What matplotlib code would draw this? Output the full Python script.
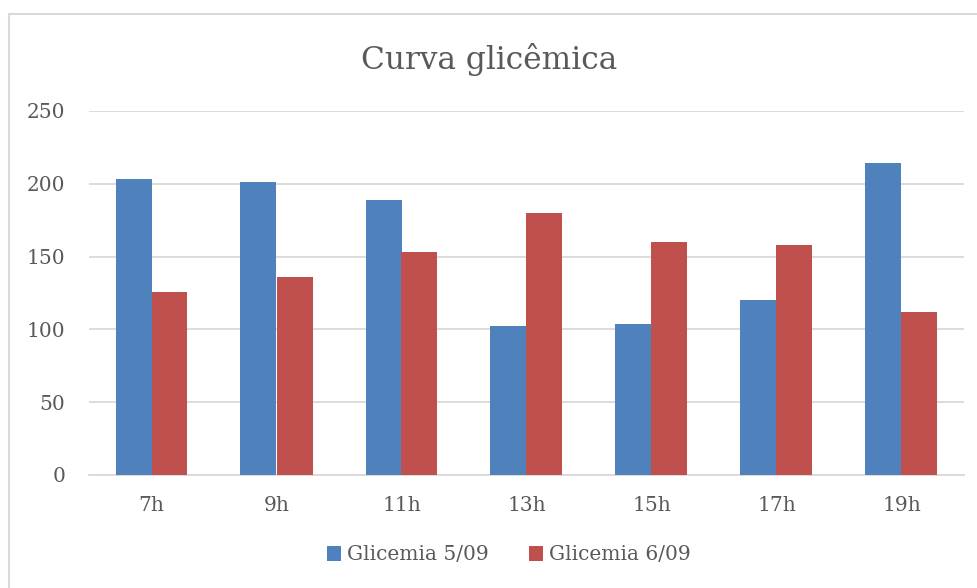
import numpy as np
import matplotlib
matplotlib.use("Agg")
import matplotlib.pyplot as plt
from matplotlib.patches import Rectangle

horas = ["7h", "9h", "11h", "13h", "15h", "17h", "19h"]
glicemia_5_09 = [203, 201, 189, 102, 104, 120, 214]
glicemia_6_09 = [126, 136, 153, 180, 160, 158, 112]
series_names = ["Glicemia 5/09", "Glicemia 6/09"]

plt.rcParams['font.family'] = ['DejaVu Serif']
text_color = '#595959'

fig = plt.figure(figsize=(9.78, 5.88), dpi=100)
# light border of the chart area
fig.patches.append(Rectangle((9/978, -0.1), 1.2, 1 - 14/588 + 0.1, transform=fig.transFigure,
                             fill=False, edgecolor='#D9D9D9', linewidth=1.5))

ax = fig.add_axes([89/978, 1 - 475/588, (964 - 89)/978, (475 - 111)/588])
x = np.arange(len(horas))
w = 0.288
ax.bar(x - w/2, glicemia_5_09, w, color='#4F81BD', label=series_names[0], zorder=3)
ax.bar(x + w/2, glicemia_6_09, w, color='#C0504D', label=series_names[1], zorder=3)

ax.set_xlim(-0.5, len(horas) - 0.5)
ax.set_ylim(0, 250)
ax.set_yticks(np.arange(0, 251, 50))
ax.set_xticks(x)
ax.set_xticklabels(horas)
ax.yaxis.grid(True, color='#D9D9D9', linewidth=1.3, zorder=0)
for s in ['top', 'right', 'left']:
    ax.spines[s].set_visible(False)
ax.spines['bottom'].set_color('#D9D9D9')
ax.spines['bottom'].set_linewidth(1.3)
ax.tick_params(length=0, labelsize=14.5, labelcolor=text_color)
ax.tick_params(axis='y', pad=17)
ax.tick_params(axis='x', pad=15)

fig.text(0.5, 1 - 60/588, "Curva glicêmica", ha='center', va='center',
         fontsize=22.5, color=text_color)

fig.legend(loc='center', bbox_to_anchor=(0.52, 1 - 555/588), ncol=2, frameon=False,
           fontsize=14.5, labelcolor=text_color, handlelength=0.7, handleheight=0.7,
           handletextpad=0.3, columnspacing=2.0)

fig.savefig("out.png", dpi=100)
